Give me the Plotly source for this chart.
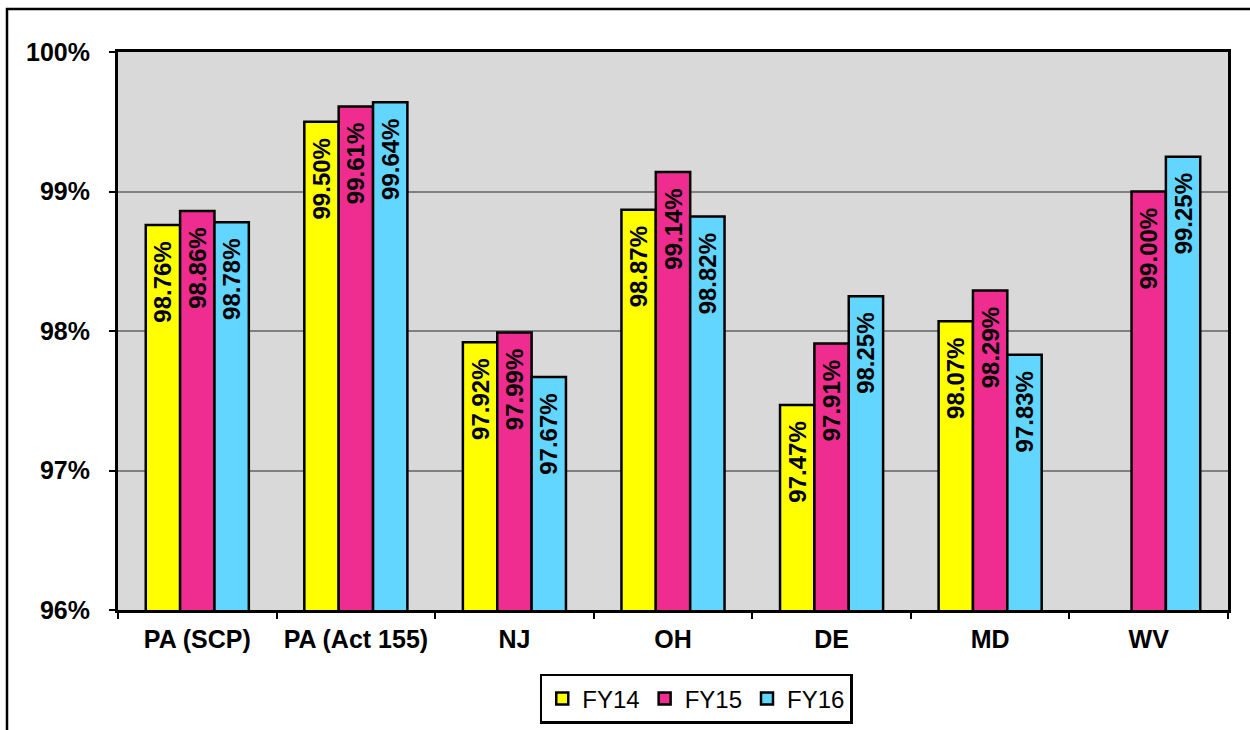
import plotly.graph_objects as go

categories = ["PA (SCP)", "PA (Act 155)", "NJ", "OH", "DE", "MD", "WV"]
fy14 = [98.76, 99.50, 97.92, 98.87, 97.47, 98.07, None]
fy15 = [98.86, 99.61, 97.99, 99.14, 97.91, 98.29, 99.00]
fy16 = [98.78, 99.64, 97.67, 98.82, 98.25, 97.83, 99.25]
series_names = ["FY14", "FY15", "FY16"]
colors = ["#FFFF00", "#EF2D91", "#62D6FE"]

FONT = "Liberation Sans, Arial, sans-serif"

fig = go.Figure()
for name, vals, col in zip(series_names, [fy14, fy15, fy16], colors):
    labels = [("" if v is None else f"{v:.2f}%\u00a0\u00a0") for v in vals]
    fig.add_trace(go.Bar(
        name=name, x=categories, y=vals,
        marker=dict(color=col, line=dict(color="black", width=2.5)),
        text=labels, textposition="inside", insidetextanchor="end",
        textangle=-90,
        textfont=dict(family=FONT, size=24, color="black", weight="bold"),
        cliponaxis=True,
    ))

fig.update_layout(
    width=1250, height=730,
    margin=dict(l=118, r=22, t=52, b=120),
    paper_bgcolor="white", plot_bgcolor="#D9D9D9",
    barmode="group", bargap=0.35, bargroupgap=0,
    uniformtext=dict(mode=False),
    font=dict(family=FONT, color="black"),
    showlegend=True,
    legend=dict(
        orientation="h", xref="container", yref="container",
        x=0.557, xanchor="center", y=0.077, yanchor="top",
        bordercolor="black", borderwidth=2.5, bgcolor="white",
        font=dict(family=FONT, size=24, color="black"),
        itemwidth=30, tracegroupgap=0,
    ),
    xaxis=dict(
        showline=True, linecolor="black", linewidth=3, mirror=True,
        ticks="outside", tickson="boundaries", ticklen=6, tickwidth=2,
        tickcolor="black",
        tickfont=dict(family=FONT, size=25, color="black", weight="bold"),
        ticklabelstandoff=5,
    ),
    yaxis=dict(
        range=[96, 100], dtick=1, ticksuffix="%",
        showline=True, linecolor="black", linewidth=3, mirror=True,
        showgrid=True, gridcolor="#808080", gridwidth=2,
        ticks="outside", ticklen=6, tickwidth=2, tickcolor="black",
        tickfont=dict(family=FONT, size=25, color="black", weight="bold"),
        ticklabelstandoff=14, zeroline=False,
    ),
    shapes=[dict(
        type="rect", xref="paper", yref="paper",
        x0=(7 - 118) / 1110, x1=1.1,
        y0=(610 - 760) / 558, y1=(610 - 9) / 558,
        line=dict(color="black", width=2.5), fillcolor="rgba(0,0,0,0)",
        layer="below",
    )],
)

fig.write_html("out.html")
